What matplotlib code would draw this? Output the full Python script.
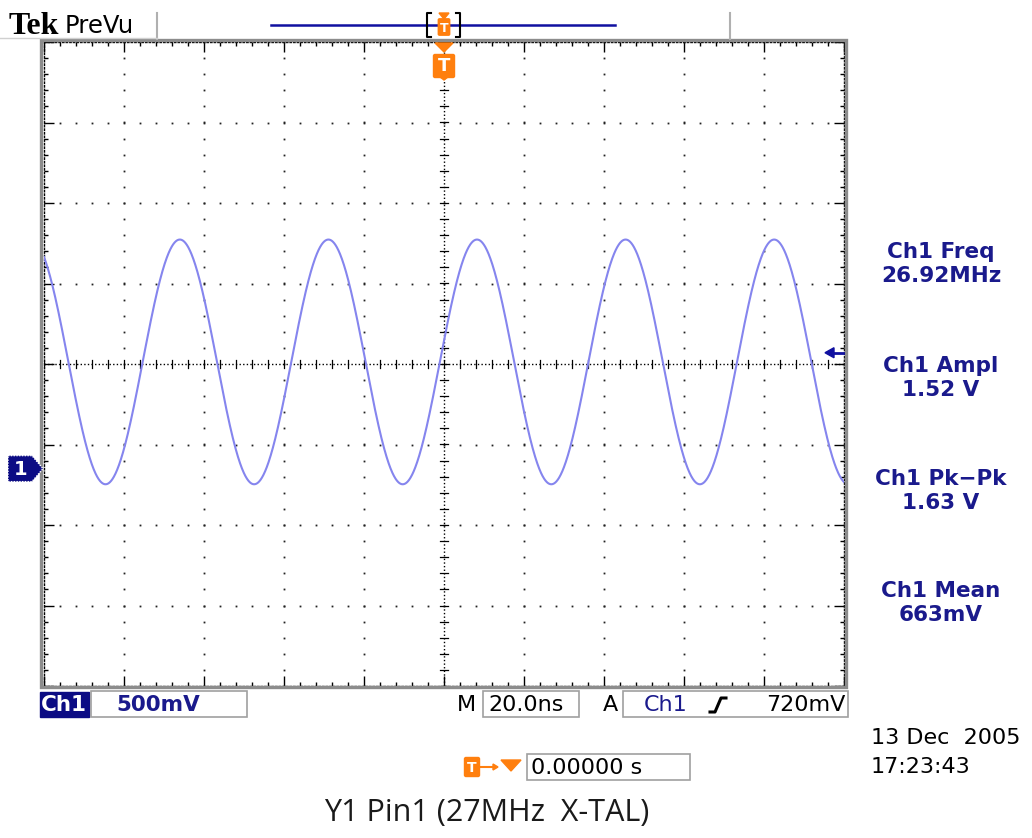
import numpy as np
import matplotlib.pyplot as plt
from matplotlib.patches import Polygon, Rectangle, FancyBboxPatch

# scope settings / measurements
ns_per_div = 20.0
v_per_div = 0.5
ch1_pos_div = -1.3          # ground marker position, divisions from centre
trig_level_v = 0.72
freq_mhz = 26.92
ampl_v = 1.52
pkpk_v = 1.63
mean_v = 0.663
t_peak_ns = 8.25            # time of the crest nearest the trigger point

meas_names = ["Ch1 Freq", "Ch1 Ampl", "Ch1 Pk\u2212Pk", "Ch1 Mean"]
meas_values = ["26.92MHz", "1.52 V", "1.63 V", "663mV"]
meas_y = [252, 366, 479, 591]

navy = "#1a1a8c"
orange = "#ff7f0e"
trace_col = "#8585ee"
frame_gray = "#8c8c8c"
fs_bold = 15.5
fs_reg = 16

fig = plt.figure(figsize=(10.32, 8.38), dpi=100)
W, H = 1032, 838

# ---- graticule axes, in divisions ----
ax = fig.add_axes([44 / W, (H - 686) / H, 800 / W, 644 / H])
ax.set_xlim(-5, 5)
ax.set_ylim(-4, 4)
for s in ax.spines.values():
    s.set_linestyle((0, (1, 1.6)))
    s.set_linewidth(1.0)
    s.set_color("black")
ax.set_xticks(np.arange(-5, 5.01, 1))
ax.set_yticks(np.arange(-4, 4.01, 1))
ax.set_xticks(np.arange(-5, 5.01, 0.2), minor=True)
ax.set_yticks(np.arange(-4, 4.01, 0.2), minor=True)
ax.tick_params(which="both", direction="in", top=True, right=True,
               labelbottom=False, labelleft=False, color="black", width=1)
ax.tick_params(which="major", length=7)
ax.tick_params(which="minor", length=3)

minor_x = np.arange(-5, 5.01, 0.2)
minor_y = np.arange(-4, 4.01, 0.2)
dot = dict(ls="none", marker="s", ms=1.3, mec="none", color="#222222")
for gx in range(-4, 5):
    if gx == 0:
        continue
    ax.plot(np.full_like(minor_y, gx), minor_y, **dot)
for gy in range(-3, 4):
    if gy == 0:
        continue
    ax.plot(minor_x, np.full_like(minor_x, gy), **dot)

# centre cross with its ticks
ax.plot([-5, 5], [0, 0], ls=(0, (1, 1.6)), lw=1, color="black")
ax.plot([0, 0], [-4, 4], ls=(0, (1, 1.6)), lw=1, color="black")
for mx in minor_x:
    ax.plot([mx, mx], [-0.05, 0.05], lw=0.9, color="black")
for my in minor_y:
    ax.plot([-0.05, 0.05], [my, my], lw=0.9, color="black")

# channel 1 trace
t = np.linspace(-5 * ns_per_div, 5 * ns_per_div, 3000)
v = mean_v + ampl_v / 2 * np.cos(2 * np.pi * freq_mhz / 1000 * (t - t_peak_ns))
ax.plot(t / ns_per_div, v / v_per_div + ch1_pos_div, color=trace_col, lw=1.5,
        zorder=5)

# ---- overlay in pixel coordinates ----
ov = fig.add_axes([0, 0, 1, 1])
ov.set_xlim(0, W)
ov.set_ylim(H, 0)
ov.axis("off")


def px(yp):
    # division y -> pixel y on the graticule
    return 364 - yp * 80.5


# gray bezel round the graticule
ov.add_patch(Rectangle((41, 40), 805, 647, fill=False, ec=frame_gray, lw=2.4))
ov.plot([157, 157], [13, 39], color="#b0b0b0", lw=1.5)
ov.plot([730, 730], [13, 39], color="#b0b0b0", lw=1.5)
ov.plot([0, 157], [38.5, 38.5], color="#d0d0d0", lw=1)

# header
ov.text(9, 34, "Tek", family="Liberation Serif", weight="bold", fontsize=23,
        color="black", va="baseline")
ov.text(65, 33, "PreVu", family="DejaVu Sans", fontsize=17.5, color="black",
        va="baseline")
ov.plot([271, 615], [25, 25], color="#1010a0", lw=1.8)
ov.plot([431, 427, 427, 431], [13, 13, 37, 37], color="black", lw=1.5)
ov.plot([456, 460, 460, 456], [13, 13, 37, 37], color="black", lw=1.5)
ov.add_patch(Polygon([(439, 13), (449, 13), (444, 19)], color=orange))
ov.add_patch(FancyBboxPatch((439.5, 20), 9, 14, boxstyle="round,pad=1.2",
                            color=orange, zorder=3))
ov.text(444, 28, "T", color="white", weight="bold", fontsize=9,
        ha="center", va="center", zorder=4)

# trigger position marker
ov.add_patch(Polygon([(435, 43), (453, 43), (444, 52)], color=orange))
ov.add_patch(FancyBboxPatch((435, 56), 18, 20, boxstyle="round,pad=1.5",
                            color=orange))
ov.add_patch(Polygon([(440, 77), (448, 77), (444, 80)], color=orange))
ov.text(444, 66, "T", color="white", weight="bold", fontsize=13,
        ha="center", va="center")

# ground marker for channel 1
gy = px(ch1_pos_div)
ov.add_patch(Polygon([(8, gy - 13), (32, gy - 13), (43, gy), (32, gy + 13),
                      (8, gy + 13)], fc="#0c0c84", ec="white", lw=1,
                     ls=(0, (1, 1))))
ov.text(21, gy + 1, "1", color="white", weight="bold", fontsize=14,
        ha="center", va="center")

# trigger level arrow on the right edge
ty = px(trig_level_v / v_per_div + ch1_pos_div)
ov.add_patch(Polygon([(825, ty), (834, ty - 5), (834, ty + 5)], color="#1010a0"))
ov.plot([833, 843], [ty, ty], color="#1010a0", lw=2)

# measurement readouts
for name, val, yy in zip(meas_names, meas_values, meas_y):
    ov.text(941, yy, name, color=navy, weight="bold", fontsize=fs_bold,
            ha="center", va="center")
    ov.text(941, yy + 24, val, color=navy, weight="bold", fontsize=fs_bold,
            ha="center", va="center")

# bottom status line
ov.add_patch(Rectangle((40, 692), 49, 25, color="#0c0c84"))
ov.text(64, 705, "Ch1", color="white", weight="bold", fontsize=fs_bold,
        ha="center", va="center")
ov.add_patch(Rectangle((91, 691), 156, 26, fill=False, ec="#a0a0a0", lw=1.2))
ov.text(116, 705, "500mV", color=navy, weight="bold", fontsize=fs_bold,
        va="center")

ov.text(457, 705, "M", color="black", fontsize=fs_reg, va="center")
ov.add_patch(Rectangle((483, 691), 96, 26, fill=False, ec="#a0a0a0", lw=1.2))
ov.text(488, 705, "20.0ns", color="black", fontsize=fs_reg, va="center")
ov.text(603, 705, "A", color="black", fontsize=fs_reg, va="center")
ov.add_patch(Rectangle((623, 691), 225, 26, fill=False, ec="#a0a0a0", lw=1.2))
ov.text(644, 705, "Ch1", color=navy, fontsize=fs_reg, va="center")
ov.plot([710, 715, 721, 726], [712, 712, 698, 698], color="black", lw=2.2)
ov.text(845, 705, "720mV", color="black", fontsize=fs_reg, ha="right",
        va="center")

# horizontal position readout
ov.add_patch(FancyBboxPatch((466, 759), 12, 16, boxstyle="round,pad=1.5",
                            color=orange))
ov.text(472, 767.5, "T", color="white", weight="bold", fontsize=10,
        ha="center", va="center")
ov.plot([481, 494], [767, 767], color=orange, lw=1.5)
ov.add_patch(Polygon([(493, 764), (498, 767), (493, 770)], color=orange))
ov.add_patch(Polygon([(501, 760), (521, 760), (511, 771)], color=orange))
ov.add_patch(Rectangle((527, 754), 163, 26, fill=False, ec="#a0a0a0", lw=1.2))
ov.text(531, 768, "0.00000 s", color="black", fontsize=fs_reg, va="center")

ov.text(871, 738, "13 Dec  2005", color="black", fontsize=fs_reg, va="center")
ov.text(871, 767, "17:23:43", color="black", fontsize=fs_reg, va="center")

fig.text(487 / W, 1 - 813 / H, "Y1 Pin1 (27MHz  X-TAL)", family="Open Sans",
         fontsize=22, color="#1a1a1a", ha="center", va="center")

fig.savefig("out.png", dpi=100, facecolor="white")
